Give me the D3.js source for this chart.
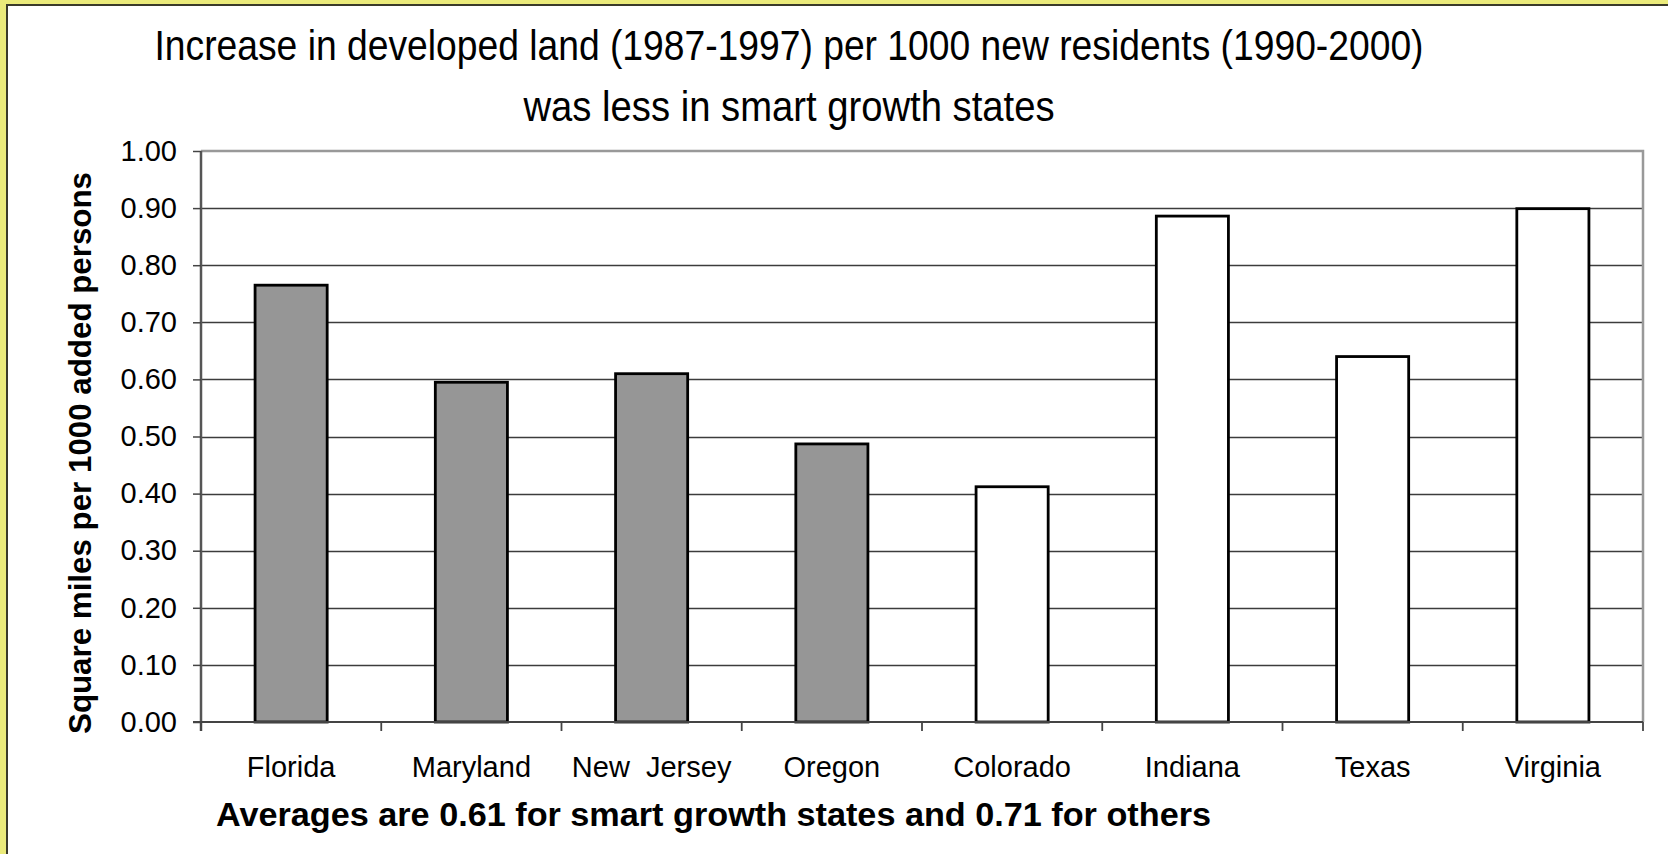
<!DOCTYPE html>
<html>
<head>
<meta charset="utf-8">
<script src="https://cdn.jsdelivr.net/npm/d3@7"></script>
<style>
  html, body { margin: 0; padding: 0; background: #ebeb7b; }
  svg { display: block; }
  text { font-family: "Liberation Sans", Arial, sans-serif; fill: #000; }
  .title { font-family: "Liberation Sans Narrow", "Arial Narrow", "Liberation Sans", Arial, sans-serif; }
</style>
</head>
<body>
<svg id="chart" width="1668" height="854"></svg>
<script>
// Square miles of newly developed land per 1000 added residents, by state
const states = ["Florida", "Maryland", "New  Jersey", "Oregon", "Colorado", "Indiana", "Texas", "Virginia"];
const landPerThousand = [0.765, 0.595, 0.61, 0.487, 0.412, 0.886, 0.64, 0.899];
const smartGrowth = [true, true, true, true, false, false, false, false];
const yTickValues = [0, 0.1, 0.2, 0.3, 0.4, 0.5, 0.6, 0.7, 0.8, 0.9, 1.0];

const titleLines = [
  "Increase in developed land (1987-1997) per 1000 new residents (1990-2000)",
  "was less in smart growth states"
];
const yAxisTitle = "Square miles per 1000 added persons";
const footnote = "Averages are 0.61 for smart growth states and 0.71 for others";

const svg = d3.select("#chart");

// Panel: yellow frame with a white card inset
svg.append("rect")
  .attr("x", 0).attr("y", 0).attr("width", 1668).attr("height", 854)
  .attr("fill", "#ebeb7b");
svg.append("rect")
  .attr("x", 7).attr("y", 5).attr("width", 1680).attr("height", 870)
  .attr("fill", "#ffffff").attr("stroke", "#3a3a2a").attr("stroke-width", 2);

const plot = { left: 201, right: 1643, top: 151, bottom: 722 };

const x = d3.scaleBand()
  .domain(states)
  .range([plot.left, plot.right])
  .paddingInner(0.6)
  .paddingOuter(0.3);

const y = d3.scaleLinear()
  .domain([0, 1])
  .range([plot.bottom, plot.top]);

// Horizontal gridlines
svg.append("g")
  .selectAll("line")
  .data(yTickValues.filter(d => d > 0 && d < 1))
  .join("line")
  .attr("x1", plot.left).attr("x2", plot.right)
  .attr("y1", d => Math.round(y(d)) + 0.5).attr("y2", d => Math.round(y(d)) + 0.5)
  .attr("stroke", "#3c3c3c").attr("stroke-width", 1.3);

// Plot frame: top and right edges in light gray
svg.append("path")
  .attr("d", `M${plot.left},${plot.top}H${plot.right}V${plot.bottom}`)
  .attr("fill", "none").attr("stroke", "#999").attr("stroke-width", 2.5);

// Bars
svg.append("g")
  .selectAll("rect")
  .data(states)
  .join("rect")
  .attr("x", d => x(d))
  .attr("width", x.bandwidth())
  .attr("y", (d, i) => y(landPerThousand[i]))
  .attr("height", (d, i) => y(0) - y(landPerThousand[i]))
  .attr("fill", (d, i) => smartGrowth[i] ? "#969696" : "#ffffff")
  .attr("stroke", "#000").attr("stroke-width", 2.8);

// Y axis
const yAxis = svg.append("g")
  .attr("transform", `translate(${plot.left},0)`)
  .call(d3.axisLeft(y)
    .tickValues(yTickValues)
    .tickFormat(d3.format(".2f"))
    .tickSize(8)
    .tickPadding(16));
yAxis.select(".domain").attr("stroke", "#555").attr("stroke-width", 2.5)
  .attr("d", `M0,${plot.top}V${plot.bottom + 9}`);
yAxis.selectAll(".tick line").attr("stroke", "#444").attr("stroke-width", 1.5);
yAxis.selectAll(".tick text")
  .attr("font-size", 29).attr("fill", "#000")
  .style("font-family", '"Liberation Sans", Arial, sans-serif');

// X axis: category labels under each bar
const xAxis = svg.append("g")
  .attr("transform", `translate(0,${plot.bottom})`)
  .call(d3.axisBottom(x).tickSize(0).tickPadding(0));
xAxis.select(".domain").attr("stroke", "#444").attr("stroke-width", 2)
  .attr("d", `M${plot.left - 8},0H${plot.right}`);
xAxis.selectAll(".tick text")
  .attr("y", 55).attr("dy", 0)
  .attr("font-size", 29).attr("fill", "#000")
  .style("white-space", "pre")
  .style("font-family", '"Liberation Sans", Arial, sans-serif');

// Tick marks on the category boundaries
const boundaries = states.map(d => x(d) - x.step() * x.paddingOuter()).concat([plot.right]);
svg.append("g")
  .selectAll("line")
  .data(boundaries)
  .join("line")
  .attr("x1", d => d).attr("x2", d => d)
  .attr("y1", plot.bottom).attr("y2", plot.bottom + 9)
  .attr("stroke", "#444").attr("stroke-width", 1.8);

// Title (condensed face)
const titleWidths = [1269, 531];
const titleBaselines = [60, 121];
svg.append("g")
  .selectAll("text")
  .data(titleLines)
  .join("text")
  .attr("class", "title")
  .attr("x", 789)
  .attr("y", (d, i) => titleBaselines[i])
  .attr("text-anchor", "middle")
  .attr("font-size", 42)
  .attr("textLength", (d, i) => titleWidths[i])
  .attr("lengthAdjust", "spacingAndGlyphs")
  .text(d => d);

// Y axis title
svg.append("text")
  .attr("transform", "translate(91,453) rotate(-90)")
  .attr("text-anchor", "middle")
  .attr("font-size", 31)
  .attr("font-weight", "bold")
  .attr("textLength", 562)
  .attr("lengthAdjust", "spacingAndGlyphs")
  .text(yAxisTitle);

// Footnote with the group averages
svg.append("text")
  .attr("x", 216).attr("y", 826)
  .attr("font-size", 33)
  .attr("font-weight", "bold")
  .attr("textLength", 995)
  .attr("lengthAdjust", "spacingAndGlyphs")
  .text(footnote);
</script>
</body>
</html>
